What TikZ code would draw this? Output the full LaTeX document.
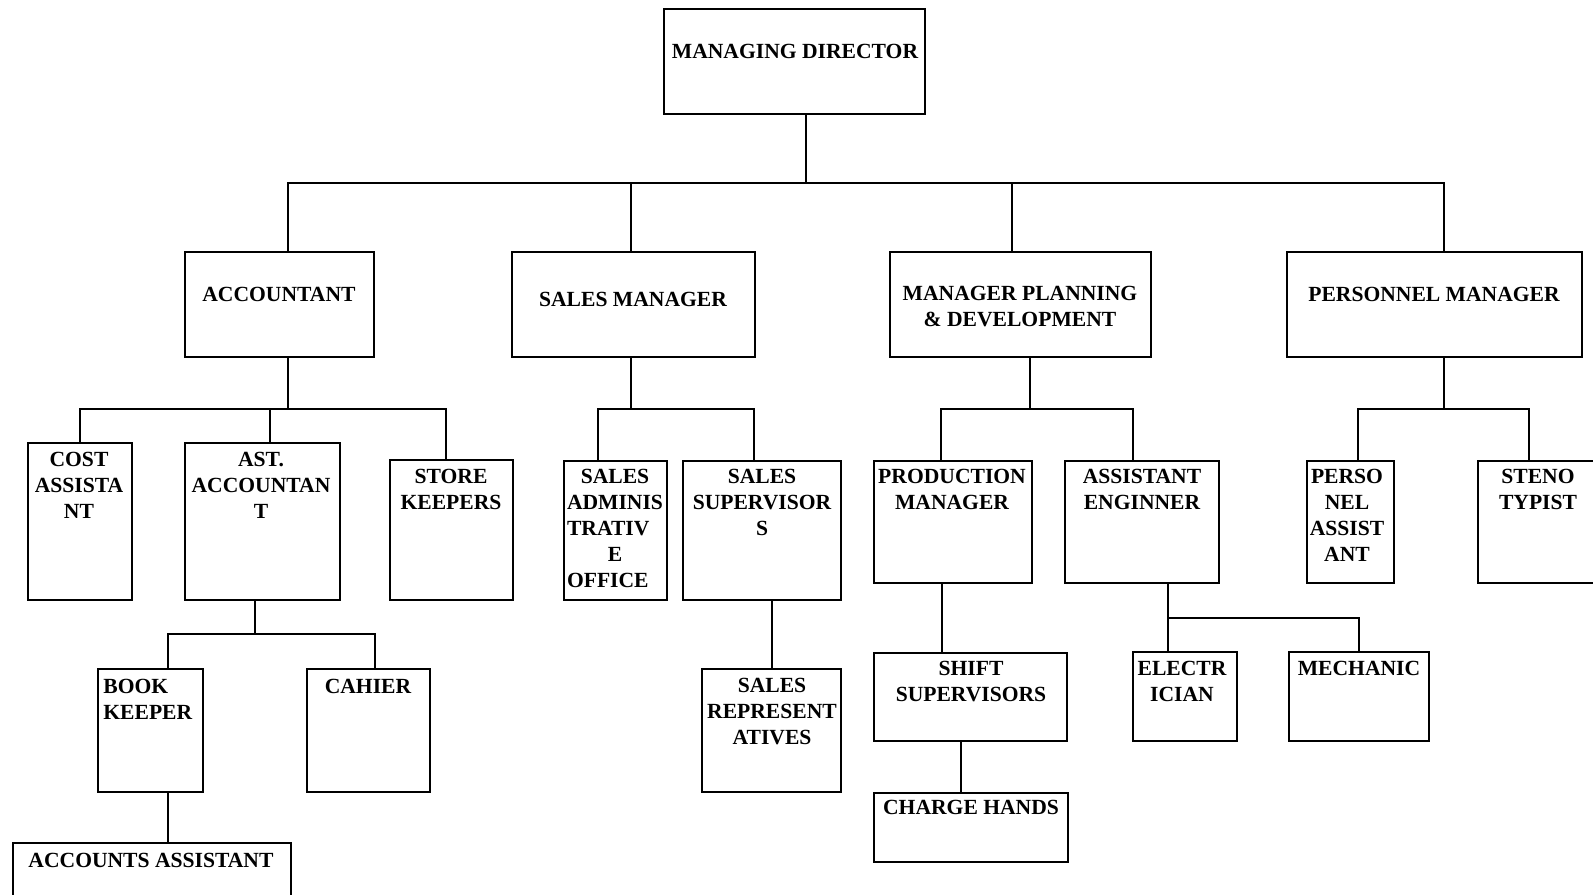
\documentclass[tikz,border=0pt]{standalone}
\usepackage{fontspec}
\setmainfont{Liberation Serif}
\tikzset{
  obox/.style={draw, line width=1.1pt, rectangle, inner sep=0pt, outer sep=0pt},
  otxt/.style={font=\fontsize{10.8}{13}\selectfont\bfseries, align=center, inner sep=0pt, anchor=north},
  link/.style={line width=1.1pt},
}
\newcommand\obox[5]{\node[obox, minimum width={(#4-#2)*0.5pt}, minimum height={(#5-#3)*0.5pt}] (#1) at ({(#2+#4)/2},{(#3+#5)/2}) {};}
\begin{document}
\begin{tikzpicture}[x=0.5pt, y=-0.5pt]
\path[use as bounding box, fill=white] (0,0) rectangle (1593,894);

% boxes
\obox{md}{664}{9}{925}{114}
\obox{acc}{185}{252}{374}{357}
\obox{sm}{512}{252}{755}{357}
\obox{mpd}{890}{252}{1151}{357}
\obox{pm}{1287}{252}{1582}{357}
\obox{cost}{28}{443}{132}{600}
\obox{ast}{185}{443}{340}{600}
\obox{store}{390}{460}{513}{600}
\obox{bk}{98}{669}{203}{792}
\obox{cahier}{307}{669}{430}{792}
\obox{aa}{13}{843}{291}{910}
\obox{sao}{564}{461}{667}{600}
\obox{ss}{683}{461}{841}{600}
\obox{sr}{702}{669}{841}{792}
\obox{pmgr}{874}{461}{1032}{583}
\obox{shs}{874}{653}{1067}{741}
\obox{ch}{874}{793}{1068}{862}
\obox{ae}{1065}{461}{1219}{583}
\obox{el}{1133}{652}{1237}{741}
\obox{mech}{1289}{652}{1429}{741}
\obox{pa}{1307}{461}{1394}{583}
\obox{st}{1478}{461}{1604}{583}

% texts
\node[otxt] (md-t) at (795,44) {MANAGING DIRECTOR};
\node[otxt] (acc-t) at (279,287) {ACCOUNTANT};
\node[otxt] (sm-t) at (633,292) {SALES MANAGER};
\node[otxt] (mpd-t) at (1020,286) {MANAGER PLANNING\\\& DEVELOPMENT};
\node[otxt] (pm-t) at (1434,287) {PERSONNEL MANAGER};
\node[otxt] (cost-t) at (79,452) {COST\\ASSISTA\\NT};
\node[otxt] (ast-t) at (261,452) {AST.\\ACCOUNTAN\\T};
\node[otxt] (store-t) at (451,469) {STORE\\KEEPERS};
\node[otxt, anchor=north west, align=left] (bk-t) at (103,679) {BOOK\\KEEPER};
\node[otxt] (cahier-t) at (368,679) {CAHIER};
\node[otxt] (aa-t) at (151,853) {ACCOUNTS ASSISTANT};
\node[otxt] (sao-t) at (615,469) {SALES\\ADMINIS\\\rlap{TRATIV}\phantom{ADMINIS}\\E\\\rlap{OFFICE}\phantom{ADMINIS}};
\node[otxt] (ss-t) at (762,469) {SALES\\SUPERVISOR\\S};
\node[otxt] (sr-t) at (772,678) {SALES\\REPRESENT\\ATIVES};
\node[otxt] (pmgr-t) at (952,469) {PRODUCTION\\MANAGER};
\node[otxt] (shs-t) at (971,661) {SHIFT\\SUPERVISORS};
\node[otxt] (ch-t) at (971,800) {CHARGE HANDS};
\node[otxt] (ae-t) at (1142,469) {ASSISTANT\\ENGINNER};
\node[otxt] (el-t) at (1182,661) {ELECTR\\ICIAN};
\node[otxt] (mech-t) at (1359,661) {MECHANIC};
\node[otxt] (pa-t) at (1347,469) {PERSO\\NEL\\ASSIST\\ANT};
\node[otxt] (st-t) at (1538,469) {STENO\\TYPIST};

% bus points
\coordinate (b1) at (806,183);
\coordinate (b2) at (288,409);
\coordinate (b3) at (255,634);
\coordinate (b4) at (631,409);
\coordinate (b5) at (1030,409);
\coordinate (b6) at (1168,618);
\coordinate (b7) at (1444,409);

% connectors
\draw[link] ([xshift=5.75pt]md.south) -- (b1);
\draw[link] (b1) -| ([xshift=4.25pt]acc.north);
\draw[link] (b1) -| ([xshift=-1.25pt]sm.north);
\draw[link] (b1) -| ([xshift=-4.25pt]mpd.north);
\draw[link] (b1) -| ([xshift=4.75pt]pm.north);

\draw[link] ([xshift=4.25pt]acc.south) -- (b2);
\draw[link] (b2) -| (cost.north);
\draw[link] (b2) -| ([xshift=3.75pt]ast.north);
\draw[link] (b2) -| ([xshift=-2.75pt]store.north);

\draw[link] ([xshift=-3.75pt]ast.south) -- (b3);
\draw[link] (b3) -| ([xshift=8.75pt]bk.north);
\draw[link] (b3) -| ([xshift=3.25pt]cahier.north);
\draw[link] ([xshift=8.75pt]bk.south) -- ([xshift=8.75pt]bk.south |- aa.north);

\draw[link] ([xshift=-1.25pt]sm.south) -- (b4);
\draw[link] (b4) -| ([xshift=-8.75pt]sao.north);
\draw[link] (b4) -| ([xshift=-4pt]ss.north);
\draw[link] ([xshift=5pt]ss.south) -- ([xshift=5pt]ss.south |- sr.north);

\draw[link] ([xshift=4.75pt]mpd.south) -- (b5);
\draw[link] (b5) -| ([xshift=-6pt]pmgr.north);
\draw[link] (b5) -| ([xshift=-4.5pt]ae.north);
\draw[link] ([xshift=-5.5pt]pmgr.south) -- ([xshift=-5.5pt]pmgr.south |- shs.north);
\draw[link] ([xshift=-4.75pt]shs.south) -- ([xshift=-4.75pt]shs.south |- ch.north);
\draw[link] ([xshift=13pt]ae.south) -- ([xshift=-8.5pt]el.north);
\draw[link] (b6) -| (mech.north);

\draw[link] ([xshift=4.75pt]pm.south) -- (b7);
\draw[link] (b7) -| ([xshift=3.75pt]pa.north);
\draw[link] (b7) -| ([xshift=-6pt]st.north);
\end{tikzpicture}
\end{document}
